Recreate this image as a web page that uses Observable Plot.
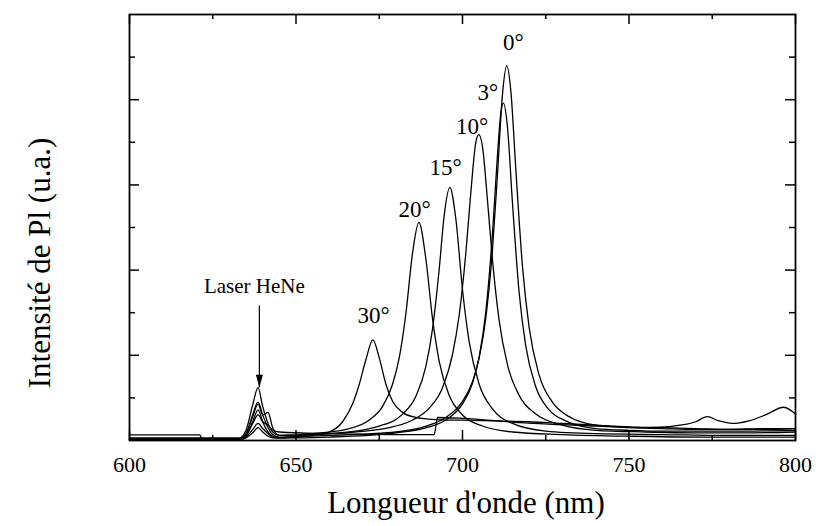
<!DOCTYPE html>
<html>
<head>
<meta charset="utf-8">
<script src="https://cdn.jsdelivr.net/npm/d3@7"></script>
<script src="https://cdn.jsdelivr.net/npm/@observablehq/plot@0.6"></script>
<style>
  html, body { margin: 0; padding: 0; background: #fff; }
  svg { display: block; }
  svg text { font-family: "Liberation Serif", "Times New Roman", Times, serif !important; }
</style>
</head>
<body>
<div id="chart"></div>
<script>
// ---- Data ----
const nm0 = [600,621,633,635,637,638.6,640,641.6,643,645,660,680,690,695,700,703,705,707,709,710.5,712,713.3,714.5,716,718,720,723,727,732,740,750,760,770,780,790,800];
const pl0 = [0.02,0.02,0.02,0.08,0.30,0.45,0.30,0.15,0.07,0.04,0.06,0.10,0.18,0.27,0.46,0.69,0.97,1.44,2.24,3.12,4.06,4.40,4.11,3.19,2.05,1.33,0.77,0.45,0.28,0.18,0.15,0.14,0.13,0.13,0.14,0.14];

const nm3 = [600,621,633,635,637,638.6,640,641.6,643,645,660,680,690,695,700,703,705,707,709,710.5,711.5,712.3,713.5,715,717,719,722,726,731,740,750,760,780,800];
const pl3 = [0.01,0.01,0.01,0.05,0.22,0.36,0.22,0.10,0.05,0.03,0.04,0.09,0.16,0.24,0.43,0.67,0.98,1.51,2.43,3.35,3.84,3.96,3.68,2.79,1.74,1.11,0.63,0.36,0.23,0.14,0.12,0.11,0.11,0.12];

const nm10 = [600,621,633,635,637,638.6,640,641.6,643,645,660,675,685,690,694,697,699,701,702.5,704,704.9,706,707.5,709,711,713.5,717,722,730,740,755,770,785,800];
const pl10 = [0.03,0.03,0.03,0.12,0.42,0.62,0.40,0.20,0.10,0.06,0.08,0.13,0.24,0.38,0.62,1.01,1.47,2.20,2.91,3.50,3.59,3.45,2.82,2.12,1.41,0.89,0.53,0.31,0.18,0.12,0.10,0.09,0.09,0.10];

const nm15 = [600,621,633,635,637,638.6,640,641.6,643,645,660,675,682,686,689,691,693,694.5,696.2,698,700,702,705,709,715,725,740,760,780,800];
const pl15 = [0.02,0.02,0.02,0.08,0.28,0.43,0.30,0.33,0.15,0.06,0.08,0.17,0.31,0.52,0.87,1.31,2.01,2.64,2.97,2.60,1.77,1.16,0.66,0.37,0.20,0.11,0.08,0.07,0.06,0.06];

const nm20 = [600,621,633,635,637,638.6,640,641.6,643,645,655,665,672,676,679,681,683,685,686.9,689,691,693,696,700,706,715,730,750,775,800];
const pl20 = [0.01,0.01,0.01,0.04,0.13,0.20,0.14,0.08,0.04,0.03,0.08,0.13,0.24,0.40,0.66,0.97,1.49,2.20,2.56,2.13,1.43,0.93,0.53,0.30,0.17,0.10,0.07,0.05,0.04,0.04];

const nm30 = [600,621,633,635,637,638.6,640,641.6,643,645,655,660,664,667,669,671,673.1,675,677,679,682,686,690,695,700,710,720,730,740,750,760,770,780,790,800];
const pl30 = [0.01,0.01,0.01,0.03,0.09,0.15,0.10,0.05,0.03,0.03,0.06,0.10,0.22,0.43,0.66,0.95,1.18,0.97,0.66,0.46,0.33,0.27,0.25,0.24,0.24,0.23,0.22,0.20,0.18,0.16,0.15,0.14,0.13,0.13,0.12];

// spectrum with the detector step near 692 nm and the bumps past 770 nm
const nmBg = [600,621,622,633,635,637,638.6,640,641.6,643,645,660,680,691.5,692.5,700,717,740,756,767,770,773.5,777,781,786,791,796.5,800];
const plBg = [0.065,0.065,0.015,0.015,0.06,0.20,0.30,0.22,0.18,0.12,0.10,0.08,0.07,0.07,0.27,0.26,0.21,0.17,0.15,0.19,0.22,0.28,0.23,0.20,0.23,0.30,0.39,0.31];

// peak labels
const peakLabels = ["0°","3°","10°","15°","20°","30°"];
const peakLabelNm = [715.3,707.6,702.9,694.9,685.6,673.3];
const peakLabelPl = [4.67,4.08,3.68,3.20,2.71,1.46];

// laser annotation
const laserText = "Laser HeNe";
const laserTextNm = 637.5, laserTextPl = 1.81;
const arrowNm = 639.0, arrowTopPl = 1.58, arrowTipPl = 0.62;

// axes
const xMajor = [600,650,700,750,800];
const xMinor = [625,675,725,775];
const yMajor = [1,2,3,4];
const yMinor = [0.5,1.5,2.5,3.5,4.5];
const xLabel = "Longueur d'onde (nm)";
const yLabel = "Intensité de Pl (u.a.)";

// ---- Build ----
const series = [
  {id:"0", nm:nm0, pl:pl0}, {id:"3", nm:nm3, pl:pl3}, {id:"10", nm:nm10, pl:pl10},
  {id:"15", nm:nm15, pl:pl15}, {id:"20", nm:nm20, pl:pl20}, {id:"30", nm:nm30, pl:pl30},
  {id:"bg", nm:nmBg, pl:plBg}
];
const rows = series.flatMap(s => s.nm.map((x, i) => ({id: s.id, nm: x, pl: s.pl[i]})));
const labels = peakLabels.map((t, i) => ({t, nm: peakLabelNm[i], pl: peakLabelPl[i]}));
const arrow = [{nm: arrowNm, top: arrowTopPl, tip: arrowTipPl}];

const W = 816, H = 526, mL = 129, mR = 21, mT = 14, mB = 86;
const fw = W - mL - mR, fh = H - mT - mB;
const font = "Liberation Serif";

const headShape = {
  draw(context, l, r) {
    context.moveTo(0, -l);
    context.lineTo(-r, 0);
    context.lineTo(r, 0);
    context.closePath();
  }
};

const chart = Plot.plot({
  width: W, height: H,
  marginLeft: mL, marginRight: mR, marginTop: mT, marginBottom: mB,
  x: {domain: [600, 800]},
  y: {domain: [0, 5], axis: null},
  style: {fontFamily: font, fontSize: "22px", color: "#000", background: "#fff"},
  marks: [
    Plot.line(rows, {x: "nm", y: "pl", z: "id", stroke: "#000", strokeWidth: 1.3, curve: "monotone-x"}),
    // inward ticks, bottom & top
    Plot.tickX(xMajor, {x: d => d, insetTop: fh - 10, stroke: "#000", strokeWidth: 1.5}),
    Plot.tickX(xMinor, {x: d => d, insetTop: fh - 5, stroke: "#000", strokeWidth: 1.5}),
    Plot.tickX(xMajor, {x: d => d, insetBottom: fh - 10, stroke: "#000", strokeWidth: 1.5}),
    Plot.tickX(xMinor, {x: d => d, insetBottom: fh - 5, stroke: "#000", strokeWidth: 1.5}),
    // inward ticks, left & right
    Plot.tickY(yMajor, {y: d => d, insetRight: fw - 10, stroke: "#000", strokeWidth: 1.5}),
    Plot.tickY(yMinor, {y: d => d, insetRight: fw - 6, stroke: "#000", strokeWidth: 1.5}),
    Plot.tickY(yMajor, {y: d => d, insetLeft: fw - 10, stroke: "#000", strokeWidth: 1.5}),
    Plot.tickY(yMinor, {y: d => d, insetLeft: fw - 6, stroke: "#000", strokeWidth: 1.5}),
    Plot.frame({stroke: "#000", strokeWidth: 1.8}),
    Plot.axisX(xMajor, {tickSize: 0, tickPadding: 16, label: null, fontSize: 22, fontFamily: font}),
    Plot.text(labels, {x: "nm", y: "pl", text: "t", fontSize: 23, fontFamily: font, fill: "#000"}),
    Plot.text([laserText], {x: laserTextNm, y: laserTextPl, text: d => d, fontSize: 21, fontFamily: font, fill: "#000"}),
    Plot.ruleX(arrow, {x: "nm", y1: "top", y2: "tip", stroke: "#000", strokeWidth: 1.2}),
    Plot.vector(arrow, {x: "nm", y: "tip", length: 13, r: 3.5, rotate: 180, anchor: "end", shape: headShape, fill: "#000", stroke: "none"})
  ]
});

const svg = d3.select(chart);
svg.append("text")
  .attr("x", mL + fw / 2 + 4).attr("y", 513)
  .attr("text-anchor", "middle")
  .attr("font-family", font).attr("font-size", 31).attr("fill", "#000")
  .text(xLabel);
svg.append("text")
  .attr("transform", `translate(50, 263) rotate(-90)`)
  .attr("text-anchor", "middle")
  .attr("font-family", font).attr("font-size", 31).attr("fill", "#000")
  .text(yLabel);

document.getElementById("chart").appendChild(chart);
</script>
</body>
</html>
